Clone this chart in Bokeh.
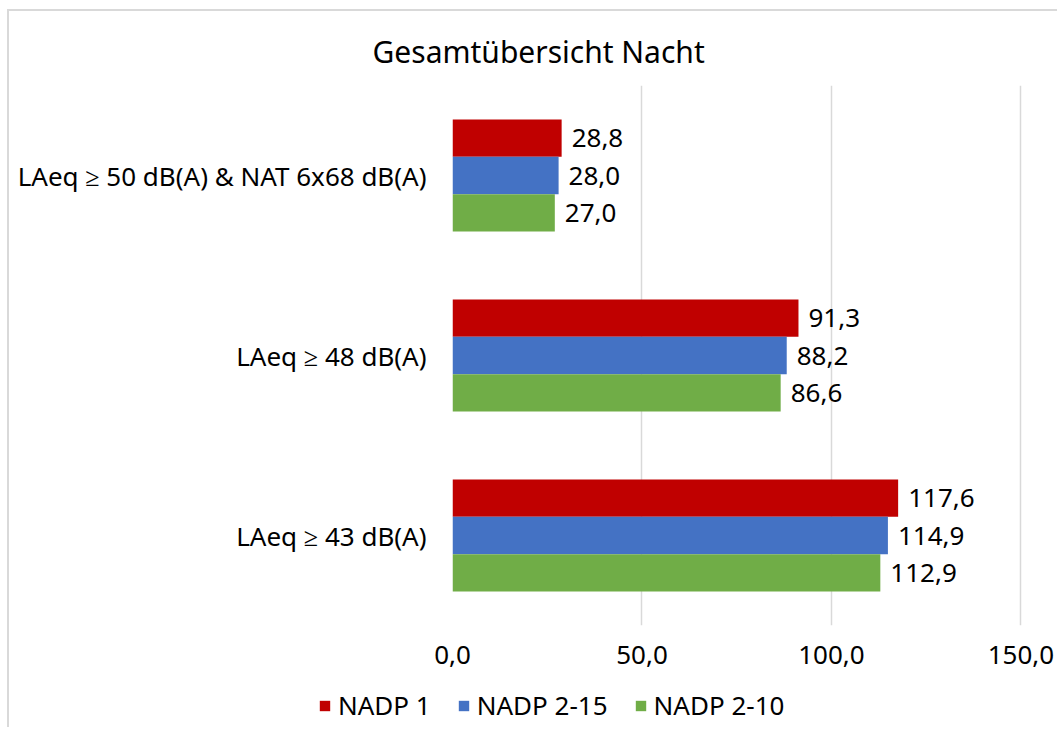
from bokeh.plotting import figure
from bokeh.models import ColumnDataSource, FactorRange, Range1d, Legend, LegendItem, FixedTicker
from bokeh.layouts import column
from bokeh.transform import dodge
from bokeh.core.properties import value
from bokeh.embed import file_html
from bokeh.resources import INLINE

categories = ["LAeq ≥ 50 dB(A) & NAT 6x68 dB(A)", "LAeq ≥ 48 dB(A)", "LAeq ≥ 43 dB(A)"]
series_names = ["NADP 1", "NADP 2-15", "NADP 2-10"]
nadp1 = [28.8, 91.3, 117.6]
nadp2_15 = [28.0, 88.2, 114.9]
nadp2_10 = [27.0, 86.6, 112.9]
colors = ["#C00000", "#4472C4", "#70AD47"]
tick_values = [0, 50, 100, 150]
tick_labels = ["0,0", "50,0", "100,0", "150,0"]
title_text = "Gesamtübersicht Nacht"

FONT = "Noto Sans"
FS = "26px"

def fmt(v):
    return f"{v:.1f}".replace(".", ",")

p = figure(width=1050, height=671, output_backend="svg", toolbar_location=None,
           y_range=FactorRange(factors=list(reversed(categories)), range_padding=0),
           x_range=Range1d(0, 152))
p.min_border_left = 443
p.min_border_right = 31
p.min_border_top = 74
p.min_border_bottom = 57
p.styles = {"margin-left": "7px", "margin-top": "9px",
            "border-top": "2px solid #d9d9d9", "border-left": "2px solid #d9d9d9"}

p.title.text = title_text
p.title.text_font = FONT
p.title.text_font_size = "30px"
p.title.text_font_style = "normal"
p.title.text_color = "#000000"
p.title.align = "left"
p.title.offset = -80
p.title.standoff = 27

offsets = [0.207, 0.0, -0.207]
all_vals = [nadp1, nadp2_15, nadp2_10]
for name, vals, col, off in zip(series_names, all_vals, colors, offsets):
    src = ColumnDataSource(dict(cat=categories, val=vals, lab=[fmt(v) for v in vals]))
    p.hbar(y=dodge("cat", off, range=p.y_range), right="val", left=0, height=0.207,
           source=src, fill_color=col, line_color=None)
    p.text(x="val", y=dodge("cat", off, range=p.y_range), text="lab", source=src,
           x_offset=10, text_baseline="middle", text_align="left",
           text_font=value(FONT), text_font_size=FS, text_color="#000000")

p.xaxis.ticker = FixedTicker(ticks=tick_values)
p.xaxis.major_label_overrides = {v: l for v, l in zip(tick_values, tick_labels)}
p.xaxis.major_label_text_font = FONT
p.xaxis.major_label_text_font_size = FS
p.xaxis.major_label_text_color = "#000000"
p.xaxis.axis_line_color = None
p.xaxis.major_tick_line_color = None
p.xaxis.minor_tick_line_color = None
p.xaxis.major_label_standoff = 14

p.yaxis.major_label_text_font = FONT
p.yaxis.major_label_text_font_size = FS
p.yaxis.major_label_text_color = "#000000"
p.yaxis.axis_line_color = None
p.yaxis.major_tick_line_color = None
p.yaxis.minor_tick_line_color = None
p.yaxis.major_label_standoff = 20

p.xgrid.ticker = FixedTicker(ticks=tick_values)
p.xgrid.grid_line_color = "#d9d9d9"
p.xgrid.grid_line_width = 1.5
p.ygrid.grid_line_color = None
p.outline_line_color = None

# legend strip below the chart (legend glyph renderers kept outside the visible range)
lg = figure(width=1050, height=47, output_backend="svg", toolbar_location=None,
            x_range=Range1d(0, 1), y_range=Range1d(0, 1),
            min_border=0, min_border_left=0, min_border_right=0,
            min_border_top=0, min_border_bottom=0)
lg.styles = {"margin-left": "7px", "border-left": "2px solid #d9d9d9"}
lg.axis.visible = False
lg.grid.visible = False
lg.outline_line_color = None
rs = []
for col in colors:
    rs.append(lg.hbar(y=[5], right=[6], left=5, height=0.1, fill_color=col, line_color=None))
legend = Legend(items=[LegendItem(label=n, renderers=[r]) for n, r in zip(series_names, rs)],
                orientation="horizontal", location=(309, 4),
                label_text_font=FONT, label_text_font_size=FS, label_text_color="#000000",
                glyph_width=13, glyph_height=13, spacing=26, padding=0, margin=0,
                label_standoff=7, border_line_color=None, background_fill_alpha=0)
lg.add_layout(legend, "center")

inner = column(lg, spacing=0)
layout = column(p, inner, spacing=0)

open("out.html", "w").write(file_html(layout, INLINE))
